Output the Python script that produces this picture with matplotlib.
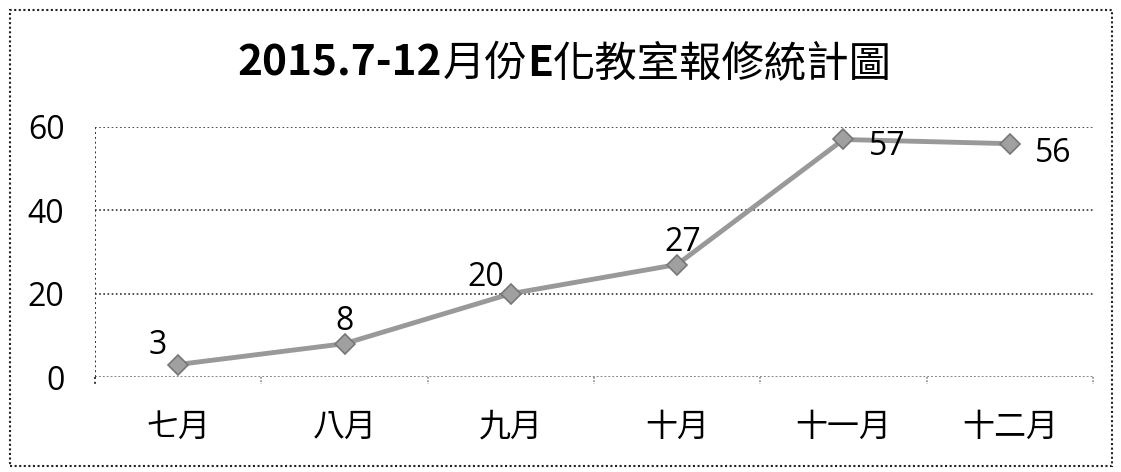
import matplotlib
matplotlib.use("Agg")
import matplotlib.pyplot as plt
from matplotlib.patches import Rectangle

plt.rcParams['font.family'] = ['Noto Sans CJK TC', 'DejaVu Sans']

months = ['七月', '八月', '九月', '十月', '十一月', '十二月']
counts = [3, 8, 20, 27, 57, 56]
yticks = [0, 20, 40, 60]
title_parts = [('2015.7-12', 'bold'), ('月份', 'normal'), ('E', 'bold'), ('化教室報修統計圖', 'normal')]

W, H = 1121, 472
fig = plt.figure(figsize=(W / 100, H / 100), dpi=100)
ax = fig.add_axes([95 / W, 1 - 377 / H, (1093 - 95) / W, 250 / H])

x = list(range(len(months)))
ax.plot(x, counts, color='#999999', lw=3.5, marker='D', ms=10,
        markerfacecolor='#a0a0a0', markeredgecolor='#777777', markeredgewidth=1.2,
        zorder=3)

ax.set_xlim(-0.5, len(months) - 0.5)
ax.set_ylim(0, 60)
ax.set_yticks(yticks)
ax.set_xticks(x)
ax.set_xticklabels(months, fontsize=23, fontweight='light')
ax.tick_params(axis='x', length=0, pad=24)
ax.tick_params(axis='y', length=0, pad=22, labelsize=23)
for t in ax.get_yticklabels():
    t.set_family(['Open Sans', 'DejaVu Sans'])

for y in yticks[1:]:
    ax.axhline(y, color='#333333', lw=1.2, ls=(0, (1, 1.5)), zorder=1)
ax.axhline(0, color='#888888', lw=1.4, ls=(0, (1, 1)), zorder=1)
for s in ax.spines.values():
    s.set_visible(False)
ax.axvline(-0.5, color='#333333', lw=1.4, ls=(0, (1, 1.5)), zorder=1)
for b in [i + 0.5 for i in range(len(months))]:
    ax.plot([b, b], [0, -1.6], color='#888888', lw=1.2, ls=(0, (1, 1)), clip_on=False)
ax.plot([-0.5, -0.5], [0, -1.6], color='#333333', lw=1.4, ls=(0, (1, 1.5)), clip_on=False)

offsets = [(-8, 2, 'right', 'bottom'), (0, 4, 'center', 'bottom'), (-5, 0, 'right', 'bottom'),
           (4, 4, 'center', 'bottom'), (18, -11, 'left', 'baseline'), (18, -13, 'left', 'baseline')]
for xi, v, (dx, dy, ha, va) in zip(x, counts, offsets):
    ax.annotate(str(v), (xi, v), xytext=(dx, dy), textcoords='offset points',
                ha=ha, va=va, fontsize=23, family=['Open Sans', 'DejaVu Sans'], zorder=4)

# title built from pieces: Latin parts bold, CJK parts regular
renderer = fig.canvas.get_renderer()
texts = []
for s, w in title_parts:
    t = fig.text(0, 0, s, fontsize=30.5, fontweight=w, va='baseline', ha='left')
    texts.append(t)
widths = [t.get_window_extent(renderer).width for t in texts]
total = sum(widths)
x0 = 565 - total / 2
base_y = H - 76
for t, wd in zip(texts, widths):
    t.set_transform(fig.dpi_scale_trans)
    t.set_position((x0 / 100, base_y / 100))
    x0 += wd

fig.patches.append(Rectangle((10 / W, 1 - 466 / H), (1112 - 10) / W, (466 - 10) / H,
                             transform=fig.transFigure, fill=False, edgecolor='#222222',
                             lw=1.5, ls=(0, (1, 1.2))))

fig.savefig('out.png', dpi=100)
